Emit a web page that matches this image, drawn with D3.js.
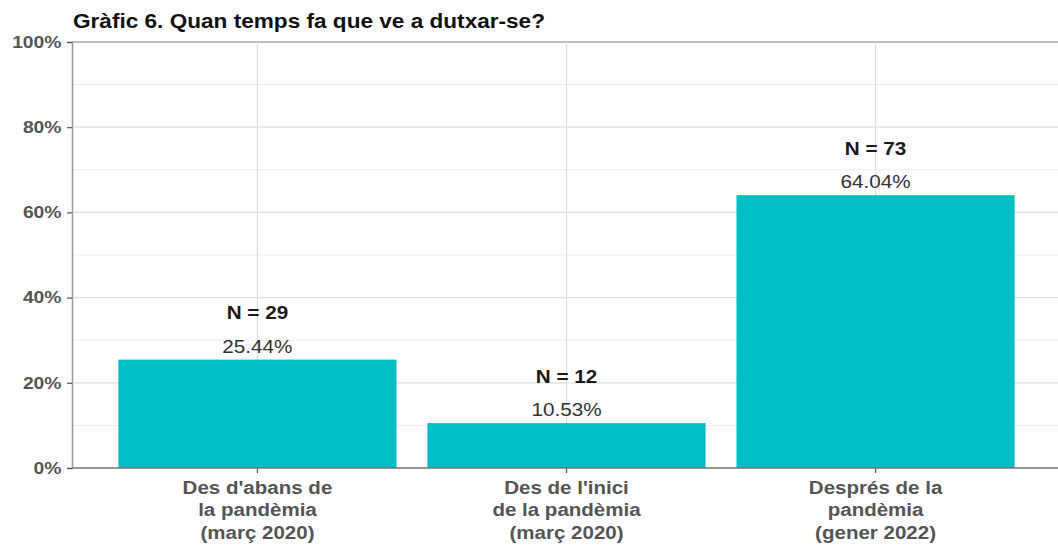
<!DOCTYPE html>
<html>
<head>
<meta charset="utf-8">
<script src="https://cdn.jsdelivr.net/npm/d3@7"></script>
<style>
  body { margin: 0; background: #fff; }
  text { font-family: "Liberation Sans", Arial, sans-serif; }
</style>
</head>
<body>
<script>
const width = 1058;
const height = 546;

// data
const categories = [
  ['Des d\'abans de', 'la pandèmia', '(març 2020)'],
  ['Des de l\'inici', 'de la pandèmia', '(març 2020)'],
  ['Després de la', 'pandèmia', '(gener 2022)']
];
const percents = [25.44, 10.53, 64.04];
const counts = [29, 12, 73];
const yTicks = [0, 20, 40, 60, 80, 100];
const yMinor = [10, 30, 50, 70, 90];

const margin = {top: 42, right: -3, bottom: 78, left: 72};

const svg = d3.select('body')
  .append('svg')
  .attr('width', width)
  .attr('height', height);

const x = d3.scaleBand()
  .domain(d3.range(categories.length))
  .range([margin.left + 0.1 * 309, width - margin.right - 0.1 * 309])
  .paddingInner(0.1)
  .paddingOuter(0.05);

const y = d3.scaleLinear()
  .domain([0, 100])
  .range([height - margin.bottom, margin.top]);

const plotRight = width - margin.right;
const cx = i => x(i) + x.bandwidth() / 2;

// minor grid
svg.append('g')
  .selectAll('line')
  .data(yMinor)
  .join('line')
  .attr('x1', margin.left).attr('x2', plotRight)
  .attr('y1', d => y(d)).attr('y2', d => y(d))
  .attr('stroke', '#ededed')
  .attr('stroke-width', 1);

// major grid
svg.append('g')
  .selectAll('line')
  .data(yTicks)
  .join('line')
  .attr('x1', margin.left).attr('x2', plotRight)
  .attr('y1', d => y(d)).attr('y2', d => y(d))
  .attr('stroke', d => d === 100 ? '#bdbdbd' : '#dedede')
  .attr('stroke-width', d => d === 100 ? 2 : 1.2);

// vertical grid at bar centres
svg.append('g')
  .selectAll('line')
  .data(d3.range(categories.length))
  .join('line')
  .attr('x1', cx).attr('x2', cx)
  .attr('y1', y(100)).attr('y2', y(0))
  .attr('stroke', '#dedede')
  .attr('stroke-width', 1.2);

// bars
svg.append('g')
  .selectAll('rect')
  .data(percents)
  .join('rect')
  .attr('x', (d, i) => x(i))
  .attr('width', x.bandwidth())
  .attr('y', d => y(d))
  .attr('height', d => y(0) - y(d))
  .attr('fill', '#00BFC4');

// value labels (text in the source image is a bit wider, so stretch it)
const labels = svg.append('g');
labels.selectAll('.pct')
  .data(percents)
  .join('text')
  .attr('class', 'pct')
  .attr('transform', (d, i) => `translate(${cx(i)},${y(d) - 7}) scale(1.15,1)`)
  .attr('text-anchor', 'middle')
  .attr('font-size', 18)
  .attr('fill', '#333')
  .text(d => d.toFixed(2) + '%');

labels.selectAll('.n')
  .data(counts)
  .join('text')
  .attr('class', 'n')
  .attr('transform', (d, i) => `translate(${cx(i)},${y(percents[i]) - 40.5}) scale(1.15,1)`)
  .attr('text-anchor', 'middle')
  .attr('font-size', 18)
  .attr('font-weight', 'bold')
  .attr('fill', '#1a1a1a')
  .text(d => 'N = ' + d);

// y axis
const yAxis = svg.append('g')
  .attr('transform', `translate(${margin.left},0)`)
  .call(d3.axisLeft(y).tickValues(yTicks).tickFormat(d => d + '%').tickSize(5).tickPadding(4));
yAxis.select('.domain').attr('stroke', '#9a9a9a').attr('stroke-width', 1.5);
yAxis.selectAll('.tick line').attr('stroke', '#555').attr('stroke-width', 1.2);
yAxis.selectAll('.tick text')
  .attr('transform', 'scale(1.17,1)')
  .attr('font-size', 16.5)
  .attr('font-weight', 'bold')
  .attr('fill', '#555')
  .attr('font-family', '"Liberation Sans", Arial, sans-serif');

// x axis
const xAxis = svg.append('g')
  .attr('transform', `translate(0,${y(0)})`)
  .call(d3.axisBottom(x).tickSize(5).tickFormat(''));
xAxis.select('.domain').remove();
svg.append('line')
  .attr('x1', margin.left).attr('x2', plotRight)
  .attr('y1', y(0)).attr('y2', y(0))
  .attr('stroke', '#777').attr('stroke-width', 1.5);
xAxis.selectAll('.tick line').attr('stroke', '#555').attr('stroke-width', 1.2);

svg.append('g')
  .selectAll('text')
  .data(categories)
  .join('text')
  .attr('transform', (d, i) => `translate(${cx(i)},${y(0) + 26}) scale(1.11,1)`)
  .attr('text-anchor', 'middle')
  .attr('font-size', 18.5)
  .attr('font-weight', 'bold')
  .attr('fill', '#555')
  .selectAll('tspan')
  .data(d => d)
  .join('tspan')
  .attr('x', 0)
  .attr('dy', (d, i) => i === 0 ? 0 : 22.5)
  .text(d => d);

// title
svg.append('text')
  .attr('transform', 'translate(73,28) scale(1.13,1)')
  .attr('font-size', 20)
  .attr('font-weight', 'bold')
  .attr('fill', '#111')
  .text('Gràfic 6. Quan temps fa que ve a dutxar-se?');
</script>
</body>
</html>
